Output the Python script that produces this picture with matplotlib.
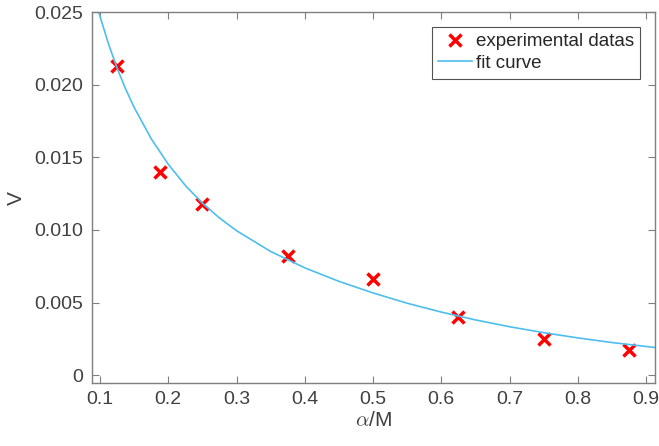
import numpy as np
import matplotlib
matplotlib.use('Agg')
import matplotlib.pyplot as plt

# experimental points
alpha_m = [0.125, 0.1875, 0.25, 0.375, 0.5, 0.625, 0.75, 0.875]
v_exp = [0.0213, 0.0140, 0.0118, 0.0082, 0.0066, 0.0040, 0.0025, 0.0017]

# fit curve
fit_x = [0.0976, 0.1, 0.1125, 0.125, 0.1375, 0.15, 0.175, 0.2, 0.225, 0.25,
         0.275, 0.3, 0.35, 0.4, 0.45, 0.5, 0.55, 0.6, 0.65, 0.7, 0.75, 0.8,
         0.85, 0.9125]
fit_v = [0.0251, 0.02472, 0.02281, 0.02116, 0.01972, 0.01845, 0.01629,
         0.01453, 0.01307, 0.01185, 0.01083, 0.00995, 0.00852, 0.00739,
         0.00646, 0.00566, 0.00495, 0.00434, 0.00380, 0.00333, 0.00292,
         0.00256, 0.00224, 0.00190]

xticks = [0.1, 0.2, 0.3, 0.4, 0.5, 0.6, 0.7, 0.8, 0.9]
yticks = [0, 0.005, 0.010, 0.015, 0.020, 0.025]
ytick_labels = ['0', '0.005', '0.010', '0.015', '0.020', '0.025']

plt.rcParams['font.family'] = ['Liberation Sans', 'DejaVu Sans']
plt.rcParams['mathtext.fontset'] = 'cm'

fig = plt.figure(figsize=(6.59, 4.46), dpi=100)
ax = fig.add_axes([0.1389, 0.1413, 0.8543, 0.8307])

ax.plot(alpha_m, v_exp, 'x', color='#ff0000', markersize=8, markeredgewidth=2.5,
        label='experimental datas')
ax.plot(fit_x, fit_v, '-', color='#4dbeee', linewidth=1.2, label='fit curve')

ax.set_xlim(0.0875, 0.9125)
ax.set_ylim(-0.00055, 0.025)
ax.set_xticks(xticks)
ax.set_xticklabels([str(t) for t in xticks])
ax.set_yticks(yticks)
ax.set_yticklabels(ytick_labels)

grey = '#262626'
for s in ax.spines.values():
    s.set_color('#7f7f7f')
    s.set_linewidth(1.0)
ax.tick_params(direction='in', top=True, right=True, length=5, width=0.8,
               color='#7f7f7f', labelcolor='#404040', labelsize=14, pad=6)

ax.set_xlabel(r'$\alpha$/M', fontsize=15, color='#404040', labelpad=2)
ax.set_ylabel('V', fontsize=15, color='#404040', labelpad=6)

leg = ax.legend(loc='upper right', fontsize=13.5, frameon=True, fancybox=False,
                edgecolor='#262626', borderpad=0.35, labelspacing=0.25,
                handlelength=1.8, handletextpad=0.2, borderaxespad=0.75)
leg.get_frame().set_linewidth(0.8)
for t in leg.get_texts():
    t.set_color(grey)

fig.savefig('out.png', dpi=100)
